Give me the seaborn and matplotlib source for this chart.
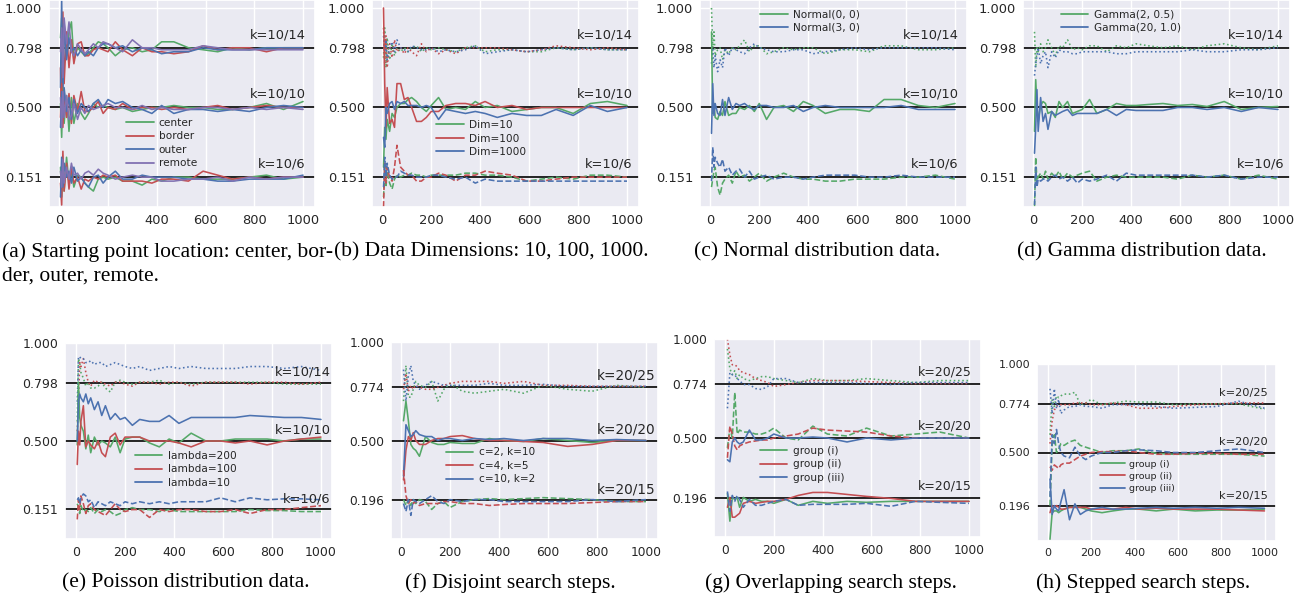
import matplotlib
matplotlib.use("Agg")
import matplotlib.pyplot as plt
import seaborn as sns
from matplotlib.lines import Line2D

sns.set_theme(style="darkgrid")
plt.rcParams["font.family"] = ["DejaVu Sans"]

G, R, B, P = "#55A868", "#C44E52", "#4C72B0", "#8172B2"

# ---------------- data ----------------
x_top = [5, 10, 15, 20, 30, 40, 50, 60, 75, 90,
         105, 120, 140, 160, 180, 200, 230, 260, 300, 340,
         380, 420, 470, 530, 590, 650, 710, 780, 850, 920,
         1000]
x_bot = [10, 20, 30, 40, 50, 60, 75, 100, 125, 150,
         175, 200, 250, 300, 360, 420, 500, 580, 680, 780,
         880, 1000]

# (a) starting point location
a_top_green = [0.85,0.95,0.72,0.90,0.76,0.88,0.93,0.74,0.80,0.78, 0.76,0.77,0.80,0.83,0.82,0.80,0.76,0.79,0.80,0.78, 0.79,0.83,0.83,0.80,0.79,0.78,0.80,0.79,0.80,0.80, 0.80]
a_top_red = [0.70,0.40,0.98,0.62,0.88,0.70,0.84,0.72,0.82,0.83, 0.76,0.76,0.79,0.80,0.79,0.78,0.83,0.79,0.76,0.80, 0.78,0.78,0.77,0.78,0.81,0.79,0.80,0.80,0.78,0.80, 0.80]
a_top_blue = [0.60,1.04,0.55,0.92,0.74,0.85,0.78,0.80,0.76,0.79, 0.76,0.78,0.76,0.80,0.82,0.82,0.80,0.81,0.78,0.80, 0.79,0.77,0.78,0.78,0.80,0.79,0.79,0.79,0.80,0.80, 0.80]
a_top_purple = [0.78,0.90,0.65,0.95,0.82,0.93,0.78,0.76,0.82,0.79, 0.77,0.79,0.82,0.80,0.83,0.82,0.80,0.78,0.84,0.80, 0.80,0.79,0.79,0.79,0.81,0.80,0.79,0.79,0.79,0.79, 0.79]
a_mid_green = [0.52,0.35,0.60,0.42,0.56,0.38,0.55,0.42,0.52,0.47, 0.44,0.47,0.52,0.50,0.51,0.50,0.49,0.50,0.48,0.49, 0.50,0.50,0.51,0.50,0.50,0.49,0.49,0.50,0.52,0.49, 0.53]
a_mid_red = [0.45,0.62,0.40,0.58,0.45,0.57,0.42,0.56,0.48,0.58, 0.48,0.48,0.50,0.53,0.47,0.50,0.49,0.52,0.49,0.50, 0.50,0.49,0.50,0.49,0.50,0.51,0.49,0.50,0.51,0.50, 0.50]
a_mid_blue = [0.40,0.58,0.45,0.60,0.48,0.55,0.44,0.54,0.47,0.52, 0.50,0.48,0.52,0.54,0.50,0.54,0.52,0.53,0.50,0.49, 0.47,0.51,0.47,0.49,0.49,0.48,0.49,0.48,0.50,0.51, 0.50]
a_mid_purple = [0.55,0.40,0.58,0.45,0.56,0.44,0.46,0.52,0.44,0.50, 0.47,0.51,0.49,0.50,0.51,0.52,0.50,0.50,0.49,0.51, 0.49,0.50,0.49,0.49,0.50,0.50,0.49,0.50,0.49,0.50, 0.49]
a_bot_green = [0.20,0.05,0.22,0.08,0.25,0.12,0.18,0.10,0.16,0.15, 0.12,0.10,0.08,0.14,0.15,0.14,0.15,0.13,0.13,0.11, 0.14,0.13,0.15,0.15,0.14,0.14,0.14,0.15,0.16,0.14, 0.15]
a_bot_red = [0.12,0.01,0.28,0.08,0.22,0.09,0.20,0.12,0.15,0.09, 0.14,0.13,0.15,0.14,0.16,0.15,0.16,0.13,0.13,0.13, 0.12,0.14,0.14,0.13,0.18,0.16,0.14,0.15,0.14,0.15, 0.15]
a_bot_blue = [0.05,0.25,0.10,0.22,0.15,0.18,0.12,0.20,0.13,0.15, 0.12,0.10,0.15,0.16,0.12,0.15,0.18,0.14,0.14,0.16, 0.15,0.15,0.15,0.14,0.14,0.13,0.13,0.14,0.14,0.14, 0.16]
a_bot_purple = [0.18,0.10,0.24,0.12,0.20,0.14,0.22,0.16,0.17,0.14, 0.17,0.18,0.16,0.19,0.17,0.16,0.14,0.15,0.16,0.15, 0.15,0.13,0.13,0.14,0.14,0.15,0.13,0.15,0.14,0.15, 0.15]

# (b) data dimensions
b_top_green = [0.75,0.90,0.70,0.85,0.74,0.82,0.76,0.80,0.78,0.80, 0.78,0.80,0.81,0.78,0.80,0.79,0.80,0.79,0.78,0.80, 0.81,0.78,0.79,0.79,0.78,0.78,0.80,0.79,0.80,0.79, 0.79]
b_top_red = [0.90,0.72,0.86,0.70,0.82,0.75,0.84,0.78,0.80,0.77, 0.80,0.78,0.76,0.82,0.78,0.80,0.77,0.79,0.77,0.80, 0.80,0.80,0.80,0.79,0.78,0.79,0.81,0.80,0.79,0.80, 0.79]
b_top_blue = [0.86,0.78,0.84,0.74,0.80,0.83,0.78,0.84,0.80,0.79, 0.78,0.81,0.80,0.79,0.79,0.80,0.78,0.79,0.78,0.79, 0.81,0.77,0.78,0.79,0.78,0.79,0.80,0.79,0.80,0.79, 0.79]
b_mid_green = [0.20,0.40,0.34,0.44,0.38,0.47,0.45,0.50,0.52,0.52, 0.54,0.55,0.53,0.50,0.48,0.51,0.55,0.49,0.50,0.49, 0.53,0.50,0.51,0.48,0.49,0.50,0.50,0.47,0.52,0.53, 0.51]
b_mid_red = [1.00,0.62,0.40,0.60,0.42,0.44,0.40,0.62,0.62,0.54, 0.55,0.50,0.43,0.43,0.45,0.48,0.48,0.51,0.52,0.52, 0.51,0.53,0.50,0.51,0.49,0.50,0.50,0.50,0.50,0.50, 0.50]
b_mid_blue = [0.35,0.30,0.50,0.47,0.52,0.53,0.49,0.53,0.52,0.53, 0.51,0.51,0.51,0.50,0.51,0.50,0.44,0.49,0.48,0.47, 0.48,0.47,0.45,0.47,0.46,0.46,0.49,0.46,0.51,0.48, 0.50]
b_bot_green = [0.05,0.20,0.10,0.18,0.12,0.09,0.14,0.16,0.15,0.16, 0.16,0.17,0.16,0.16,0.15,0.16,0.16,0.16,0.16,0.17, 0.17,0.16,0.16,0.15,0.13,0.14,0.15,0.14,0.16,0.16, 0.15]
b_bot_red = [0.00,0.22,0.12,0.20,0.15,0.13,0.20,0.31,0.20,0.18, 0.16,0.16,0.13,0.13,0.15,0.15,0.17,0.16,0.13,0.16, 0.16,0.18,0.17,0.16,0.13,0.13,0.14,0.15,0.15,0.15, 0.15]
b_bot_blue = [0.10,0.25,0.15,0.22,0.16,0.14,0.15,0.15,0.18,0.17, 0.16,0.16,0.15,0.15,0.15,0.16,0.16,0.15,0.14,0.15, 0.12,0.14,0.13,0.13,0.13,0.13,0.13,0.13,0.13,0.13, 0.13]

# (c) normal distribution
c_top_green = [1.00,0.80,0.88,0.76,0.79,0.80,0.74,0.79,0.77,0.80, 0.79,0.81,0.84,0.78,0.81,0.81,0.77,0.78,0.80,0.79, 0.80,0.80,0.77,0.79,0.79,0.78,0.81,0.81,0.79,0.79, 0.80]
c_top_blue = [0.72,0.80,0.70,0.76,0.68,0.74,0.70,0.80,0.76,0.80, 0.79,0.78,0.77,0.80,0.82,0.80,0.79,0.78,0.78,0.79, 0.79,0.77,0.78,0.79,0.80,0.79,0.80,0.80,0.80,0.80, 0.79]
c_mid_green = [0.88,0.47,0.52,0.45,0.44,0.48,0.46,0.53,0.46,0.47, 0.47,0.50,0.49,0.51,0.48,0.52,0.44,0.50,0.51,0.48, 0.53,0.51,0.47,0.49,0.49,0.48,0.54,0.54,0.51,0.50, 0.52]
c_mid_blue = [0.37,0.62,0.46,0.52,0.47,0.46,0.54,0.46,0.55,0.49, 0.52,0.51,0.52,0.50,0.49,0.51,0.51,0.50,0.50,0.51, 0.48,0.50,0.51,0.50,0.50,0.50,0.50,0.51,0.49,0.49, 0.49]
c_bot_green = [0.10,0.14,0.18,0.20,0.10,0.06,0.12,0.14,0.16,0.12, 0.18,0.15,0.16,0.13,0.15,0.17,0.13,0.15,0.17,0.15, 0.14,0.14,0.13,0.13,0.14,0.14,0.14,0.15,0.15,0.16, 0.14]
c_bot_blue = [0.13,0.30,0.20,0.25,0.22,0.20,0.24,0.18,0.20,0.16, 0.18,0.19,0.15,0.18,0.14,0.15,0.16,0.14,0.15,0.15, 0.14,0.15,0.16,0.16,0.16,0.15,0.15,0.16,0.15,0.15, 0.15]

# (d) gamma distribution
d_top_green = [0.88,0.70,0.80,0.78,0.82,0.78,0.80,0.84,0.80,0.76, 0.81,0.80,0.84,0.79,0.80,0.79,0.81,0.81,0.78,0.81, 0.80,0.82,0.81,0.80,0.81,0.79,0.81,0.82,0.80,0.79, 0.81]
d_top_blue = [0.66,0.72,0.76,0.80,0.72,0.76,0.78,0.70,0.78,0.75, 0.79,0.78,0.78,0.77,0.77,0.78,0.78,0.78,0.78,0.77, 0.77,0.78,0.78,0.78,0.78,0.79,0.78,0.78,0.79,0.79, 0.80]
d_mid_green = [0.38,0.64,0.50,0.43,0.51,0.53,0.52,0.47,0.48,0.45, 0.53,0.50,0.53,0.47,0.48,0.49,0.54,0.47,0.49,0.52, 0.51,0.51,0.515,0.52,0.51,0.515,0.505,0.53,0.49,0.50, 0.505]
d_mid_blue = [0.27,0.40,0.59,0.38,0.55,0.43,0.47,0.39,0.48,0.46, 0.47,0.48,0.49,0.46,0.47,0.47,0.47,0.47,0.49,0.46, 0.49,0.485,0.485,0.485,0.50,0.50,0.49,0.50,0.48,0.50, 0.49]
d_bot_green = [0.00,0.25,0.13,0.15,0.17,0.14,0.18,0.14,0.17,0.15, 0.18,0.14,0.17,0.15,0.16,0.17,0.18,0.13,0.15,0.16, 0.15,0.15,0.15,0.15,0.14,0.16,0.15,0.16,0.14,0.16, 0.14]
d_bot_blue = [0.01,0.20,0.10,0.14,0.13,0.14,0.14,0.13,0.15,0.16, 0.14,0.15,0.13,0.15,0.12,0.14,0.13,0.14,0.16,0.13, 0.17,0.16,0.16,0.16,0.16,0.16,0.15,0.16,0.14,0.15, 0.15]

# (e) poisson distribution
e_top_green = [0.60,0.92,0.90,0.85,0.82,0.78,0.80,0.77,0.77,0.78, 0.80,0.77,0.75,0.80,0.81,0.80,0.79,0.80,0.80,0.81, 0.79,0.80,0.79,0.80,0.80,0.80,0.80,0.80,0.79,0.79, 0.79]
e_top_red = [0.55,0.70,0.90,0.88,0.92,0.85,0.80,0.78,0.81,0.80, 0.80,0.79,0.78,0.80,0.80,0.79,0.78,0.80,0.80,0.79, 0.80,0.80,0.78,0.80,0.80,0.80,0.79,0.80,0.80,0.79, 0.80]
e_top_blue = [0.70,0.93,0.93,0.92,0.92,0.90,0.90,0.91,0.89,0.90, 0.90,0.88,0.89,0.90,0.89,0.88,0.87,0.88,0.86,0.87, 0.88,0.87,0.88,0.87,0.87,0.87,0.88,0.88,0.87,0.88, 0.86]
e_mid_green = [0.48,0.80,0.62,0.58,0.55,0.46,0.53,0.44,0.52,0.48, 0.50,0.49,0.47,0.52,0.44,0.51,0.52,0.52,0.49,0.47, 0.51,0.49,0.54,0.50,0.50,0.51,0.51,0.51,0.50,0.51, 0.51]
e_mid_red = [0.38,0.55,0.48,0.60,0.68,0.47,0.50,0.48,0.46,0.50, 0.44,0.42,0.52,0.54,0.48,0.52,0.52,0.52,0.50,0.50, 0.50,0.49,0.47,0.50,0.50,0.49,0.50,0.48,0.50,0.51, 0.52]
e_mid_blue = [0.50,0.70,0.74,0.72,0.70,0.74,0.69,0.72,0.66,0.70, 0.63,0.68,0.61,0.64,0.61,0.62,0.58,0.61,0.60,0.60, 0.63,0.59,0.62,0.62,0.62,0.62,0.63,0.625,0.62,0.62, 0.61]
e_bot_green = [0.18,0.16,0.13,0.17,0.14,0.15,0.14,0.16,0.13,0.15, 0.14,0.15,0.14,0.12,0.13,0.15,0.16,0.15,0.15,0.14, 0.15,0.14,0.14,0.14,0.14,0.14,0.15,0.145,0.145,0.14, 0.14]
e_bot_red = [0.10,0.20,0.15,0.22,0.18,0.13,0.17,0.18,0.15,0.14, 0.13,0.12,0.15,0.18,0.15,0.14,0.15,0.15,0.11,0.15, 0.14,0.15,0.15,0.14,0.14,0.15,0.13,0.15,0.15,0.16, 0.17]
e_bot_blue = [0.20,0.21,0.18,0.21,0.23,0.22,0.19,0.20,0.16,0.19, 0.18,0.17,0.19,0.18,0.17,0.19,0.18,0.19,0.18,0.19, 0.18,0.19,0.19,0.19,0.21,0.19,0.21,0.20,0.205,0.205, 0.20]

# (f) disjoint search steps
f_top_green = [0.70,0.88,0.72,0.72,0.76,0.80,0.78,0.77,0.80,0.70, 0.76,0.79,0.75,0.74,0.75,0.76,0.74,0.78,0.76,0.75, 0.78,0.77]
f_top_red = [0.76,0.84,0.75,0.78,0.76,0.78,0.77,0.76,0.76,0.77, 0.78,0.79,0.80,0.80,0.80,0.79,0.80,0.78,0.78,0.775, 0.775,0.775]
f_top_blue = [0.86,0.70,0.83,0.88,0.80,0.78,0.76,0.78,0.80,0.79, 0.78,0.78,0.78,0.78,0.79,0.78,0.78,0.785,0.775,0.775, 0.775,0.775]
f_mid_green = [0.60,0.70,0.60,0.48,0.46,0.45,0.42,0.52,0.49,0.48, 0.48,0.49,0.485,0.485,0.51,0.50,0.495,0.51,0.50,0.49, 0.50,0.50]
f_mid_red = [0.30,0.45,0.52,0.50,0.54,0.50,0.48,0.48,0.50,0.51, 0.51,0.52,0.525,0.51,0.50,0.50,0.495,0.49,0.47,0.48, 0.50,0.50]
f_mid_blue = [0.32,0.58,0.55,0.52,0.53,0.55,0.53,0.52,0.52,0.50, 0.51,0.51,0.50,0.51,0.505,0.51,0.50,0.51,0.51,0.50, 0.505,0.50]
f_bot_green = [0.20,0.17,0.20,0.17,0.20,0.18,0.20,0.19,0.15,0.18, 0.19,0.16,0.19,0.20,0.205,0.20,0.205,0.21,0.205,0.20, 0.19,0.19]
f_bot_red = [0.35,0.22,0.18,0.20,0.18,0.19,0.17,0.18,0.18,0.18, 0.19,0.19,0.18,0.18,0.17,0.175,0.18,0.18,0.18,0.185, 0.19,0.19]
f_bot_blue = [0.18,0.14,0.20,0.12,0.20,0.19,0.18,0.20,0.22,0.19, 0.18,0.20,0.19,0.20,0.20,0.19,0.19,0.19,0.19,0.20, 0.19,0.20]

# (g) overlapping search steps
g_top_green = [0.95,0.85,0.82,0.84,0.80,0.82,0.80,0.79,0.80,0.81, 0.81,0.80,0.79,0.78,0.80,0.79,0.79,0.80,0.79,0.78, 0.79,0.79]
g_top_red = [1.00,0.92,0.87,0.87,0.86,0.84,0.83,0.82,0.80,0.79, 0.78,0.76,0.77,0.78,0.79,0.79,0.79,0.785,0.78,0.775, 0.775,0.775]
g_top_blue = [0.65,0.83,0.82,0.82,0.80,0.79,0.77,0.77,0.75,0.745, 0.76,0.80,0.80,0.78,0.78,0.78,0.78,0.775,0.77,0.78, 0.78,0.78]
g_mid_green = [0.45,0.55,0.50,0.73,0.52,0.54,0.53,0.53,0.52,0.52, 0.53,0.55,0.50,0.49,0.56,0.52,0.51,0.55,0.51,0.52, 0.53,0.50]
g_mid_red = [0.40,0.56,0.52,0.46,0.44,0.46,0.47,0.48,0.485,0.49, 0.49,0.50,0.51,0.52,0.55,0.54,0.535,0.53,0.51,0.50, 0.50,0.50]
g_mid_blue = [0.39,0.38,0.48,0.50,0.48,0.47,0.48,0.54,0.49,0.49, 0.50,0.52,0.50,0.50,0.505,0.50,0.48,0.50,0.49,0.50, 0.50,0.50]
g_bot_green = [0.22,0.08,0.20,0.19,0.20,0.15,0.20,0.18,0.19,0.18, 0.18,0.17,0.19,0.16,0.18,0.17,0.18,0.175,0.18,0.18, 0.18,0.18]
g_bot_red = [0.15,0.20,0.10,0.10,0.11,0.12,0.17,0.18,0.17,0.175, 0.18,0.18,0.19,0.21,0.225,0.225,0.215,0.205,0.195,0.18, 0.18,0.18]
g_bot_blue = [0.23,0.13,0.21,0.18,0.21,0.19,0.15,0.19,0.16,0.16, 0.17,0.18,0.19,0.16,0.165,0.165,0.165,0.17,0.155,0.18, 0.175,0.17]

# (h) stepped search steps
h_top_green = [0.60,0.80,0.76,0.82,0.81,0.82,0.83,0.83,0.84,0.77, 0.78,0.80,0.77,0.78,0.79,0.785,0.785,0.77,0.775,0.775, 0.775,0.745]
h_top_red = [0.55,0.68,0.74,0.76,0.77,0.77,0.77,0.77,0.78,0.78, 0.78,0.77,0.77,0.78,0.77,0.75,0.75,0.76,0.77,0.775, 0.78,0.78]
h_top_blue = [0.86,0.72,0.86,0.75,0.80,0.72,0.74,0.76,0.76,0.77, 0.76,0.76,0.75,0.77,0.77,0.77,0.76,0.75,0.755,0.76, 0.79,0.75]
h_mid_green = [0.20,0.55,0.60,0.50,0.52,0.55,0.54,0.56,0.57,0.54, 0.53,0.52,0.50,0.51,0.51,0.52,0.495,0.49,0.49,0.49, 0.49,0.48]
h_mid_red = [0.42,0.40,0.43,0.42,0.41,0.43,0.44,0.44,0.46,0.48, 0.49,0.50,0.505,0.505,0.51,0.50,0.49,0.49,0.495,0.495, 0.49,0.49]
h_mid_blue = [0.25,0.60,0.55,0.63,0.55,0.50,0.48,0.47,0.53,0.48, 0.46,0.48,0.50,0.50,0.51,0.515,0.51,0.50,0.50,0.51, 0.52,0.50]
h_bot_green = [0.01,0.16,0.17,0.17,0.16,0.17,0.18,0.19,0.19,0.19, 0.18,0.17,0.16,0.17,0.18,0.18,0.17,0.18,0.17,0.175, 0.175,0.18]
h_bot_red = [0.16,0.20,0.19,0.20,0.19,0.18,0.18,0.19,0.19,0.19, 0.19,0.18,0.18,0.18,0.19,0.18,0.185,0.18,0.18,0.18, 0.175,0.17]
h_bot_blue = [0.35,0.15,0.20,0.18,0.17,0.22,0.29,0.12,0.21,0.15, 0.17,0.18,0.19,0.18,0.18,0.185,0.19,0.185,0.19,0.185, 0.19,0.185]

refs_10 = [0.798, 0.500, 0.151]
refs_20 = [0.774, 0.500, 0.196]
klab_10 = ["k=10/14", "k=10/10", "k=10/6"]
klab_20 = ["k=20/25", "k=20/20", "k=20/15"]
xtick_vals = [0, 200, 400, 600, 800, 1000]

captions = {
    "a1": "(a) Starting point location: center, bor-",
    "a2": "der, outer, remote.",
    "b": "(b) Data Dimensions: 10, 100, 1000.",
    "c": "(c) Normal distribution data.",
    "d": "(d) Gamma distribution data.",
    "e": "(e) Poisson distribution data.",
    "f": "(f) Disjoint search steps.",
    "g": "(g) Overlapping search steps.",
    "h": "(h) Stepped search steps.",
}

# ---------------- drawing ----------------
W, H = 1306, 600
fig = plt.figure(figsize=(W / 100, H / 100), dpi=100)
TXT = "#262626"


def add_ax(l, r, t, b):
    return fig.add_axes([l / W, 1 - b / H, (r - l) / W, (b - t) / H])


def panel(rect, xs, series, refs, klabels, kx, xlim, ylim, legend, leg_xy,
          tick_fs=9.4, k_fs=9.4, leg_fs=7.6, k_off=4):
    ax = add_ax(*rect)
    for ref in refs:
        ax.axhline(ref, color="black", lw=1.2, zorder=1.5)
    for vals, col, ls in series:
        sns.lineplot(x=xs, y=vals, color=col, linestyle=ls, linewidth=1.15,
                     estimator=None, sort=False, ax=ax)
    ax.set_xlim(*xlim)
    ax.set_ylim(*ylim)
    ax.set_xticks(xtick_vals)
    ax.set_xticklabels([str(v) for v in xtick_vals])
    ax.set_yticks([1.0] + refs)
    ax.set_yticklabels(["%.3f" % v for v in [1.0] + refs])
    ax.tick_params(axis="both", labelsize=tick_fs, colors=TXT, pad=5, length=0)
    ax.set_xlabel("")
    ax.set_ylabel("")
    for ref, lab in zip(refs, klabels):
        ax.annotate(lab, xy=(kx, ref), xytext=(0, k_off), textcoords="offset points",
                    ha="right", va="bottom", fontsize=k_fs, color=TXT)
    handles = [Line2D([], [], color=c, lw=1.3) for _, c in legend]
    ax.legend(handles, [l for l, _ in legend], loc="upper left",
              bbox_to_anchor=leg_xy, frameon=False, borderpad=0, borderaxespad=0,
              handlelength=2.6, handletextpad=0.5, labelspacing=0.33,
              fontsize=leg_fs)
    return ax


top_xlim = (-42, 1049)
top_ylim = (0.0, 1.04)
bot_ylim = (0.0, 1.0)

panel((49, 315, 0, 207), x_top,
      [(a_top_green, G, "-"), (a_top_red, R, "-"), (a_top_blue, B, "-"), (a_top_purple, P, "-"),
       (a_mid_green, G, "-"), (a_mid_red, R, "-"), (a_mid_blue, B, "-"), (a_mid_purple, P, "-"),
       (a_bot_green, G, "-"), (a_bot_red, R, "-"), (a_bot_blue, B, "-"), (a_bot_purple, P, "-")],
      refs_10, klab_10, 1012, top_xlim, top_ylim,
      [("center", G), ("border", R), ("outer", B), ("remote", P)], (0.29, 0.43), k_off=5)

panel((372, 639, 0, 207), x_top,
      [(b_top_green, G, ":"), (b_top_red, R, ":"), (b_top_blue, B, ":"),
       (b_mid_green, G, "-"), (b_mid_red, R, "-"), (b_mid_blue, B, "-"),
       (b_bot_green, G, "--"), (b_bot_red, R, "--"), (b_bot_blue, B, "--")],
      refs_10, klab_10, 1022, top_xlim, top_ylim,
      [("Dim=10", G), ("Dim=100", R), ("Dim=1000", B)], (0.24, 0.42), k_off=5)

panel((700, 967, 0, 207), x_top,
      [(c_top_green, G, ":"), (c_top_blue, B, ":"),
       (c_mid_green, G, "-"), (c_mid_blue, B, "-"),
       (c_bot_green, G, "--"), (c_bot_blue, B, "--")],
      refs_10, klab_10, 1015, top_xlim, top_ylim,
      [("Normal(0, 0)", G), ("Normal(3, 0)", B)], (0.225, 0.955), k_off=5)

panel((1023, 1290, 0, 207), x_top,
      [(d_top_green, G, ":"), (d_top_blue, B, ":"),
       (d_mid_green, G, "-"), (d_mid_blue, B, "-"),
       (d_bot_green, G, "--"), (d_bot_blue, B, "--")],
      refs_10, klab_10, 1025, top_xlim, top_ylim,
      [("Gamma(2, 0.5)", G), ("Gamma(20, 1.0)", B)], (0.142, 0.955), k_off=5)

panel((65, 332, 343, 539), x_top,
      [(e_top_green, G, ":"), (e_top_red, R, ":"), (e_top_blue, B, ":"),
       (e_mid_green, G, "-"), (e_mid_red, R, "-"), (e_mid_blue, B, "-"),
       (e_bot_green, G, "--"), (e_bot_red, R, "--"), (e_bot_blue, B, "--")],
      refs_10, klab_10, 1040, (-45, 1045), bot_ylim,
      [("lambda=200", G), ("lambda=100", R), ("lambda=10", B)], (0.262, 0.45),
      tick_fs=9.0, k_fs=9.4, k_off=3)

panel((391, 658, 342, 539), x_bot,
      [(f_top_green, G, ":"), (f_top_red, R, ":"), (f_top_blue, B, ":"),
       (f_mid_green, G, "-"), (f_mid_red, R, "-"), (f_mid_blue, B, "-"),
       (f_bot_green, G, "--"), (f_bot_red, R, "--"), (f_bot_blue, B, "--")],
      refs_20, klab_20, 1038, (-41, 1049), bot_ylim,
      [("c=2, k=10", G), ("c=4, k=5", R), ("c=10, k=2", B)], (0.206, 0.465),
      tick_fs=8.8, k_fs=9.8, k_off=3)

panel((714, 981, 339, 537), x_bot,
      [(g_top_green, G, ":"), (g_top_red, R, ":"), (g_top_blue, B, ":"),
       (g_mid_green, G, "--"), (g_mid_red, R, "--"), (g_mid_blue, B, "-"),
       (g_bot_green, G, "-"), (g_bot_red, R, "-"), (g_bot_blue, B, "--")],
      refs_20, klab_20, 1013, (-45, 1049), bot_ylim,
      [("group (i)", G), ("group (ii)", R), ("group (iii)", B)], (0.172, 0.46),
      tick_fs=8.8, k_fs=9.0, k_off=4)

panel((1037, 1276, 364, 541), x_bot,
      [(h_top_green, G, ":"), (h_top_red, R, ":"), (h_top_blue, B, ":"),
       (h_mid_green, G, "--"), (h_mid_red, R, "--"), (h_mid_blue, B, "--"),
       (h_bot_green, G, "-"), (h_bot_red, R, "-"), (h_bot_blue, B, "-")],
      refs_20, klab_20, 1015, (-50, 1053), bot_ylim,
      [("group (i)", G), ("group (ii)", R), ("group (iii)", B)], (0.264, 0.46),
      tick_fs=8.0, k_fs=8.2, leg_fs=6.8, k_off=4)

SERIF = ["Liberation Serif", "DejaVu Serif"]
CFS = 15.5


def cap(x, y, txt, ha="center"):
    fig.text(x / W, 1 - y / H, txt, ha=ha, va="center", fontsize=CFS,
             family=SERIF, color="black")


cap(2, 252, captions["a1"], ha="left")
cap(2, 276, captions["a2"], ha="left")
cap(491, 252, captions["b"])
cap(817, 252, captions["c"])
cap(1142, 252, captions["d"])
cap(186, 583, captions["e"])
cap(510, 583, captions["f"])
cap(831, 583, captions["g"])
cap(1143, 583, captions["h"])

fig.savefig("out.png", dpi=100)
